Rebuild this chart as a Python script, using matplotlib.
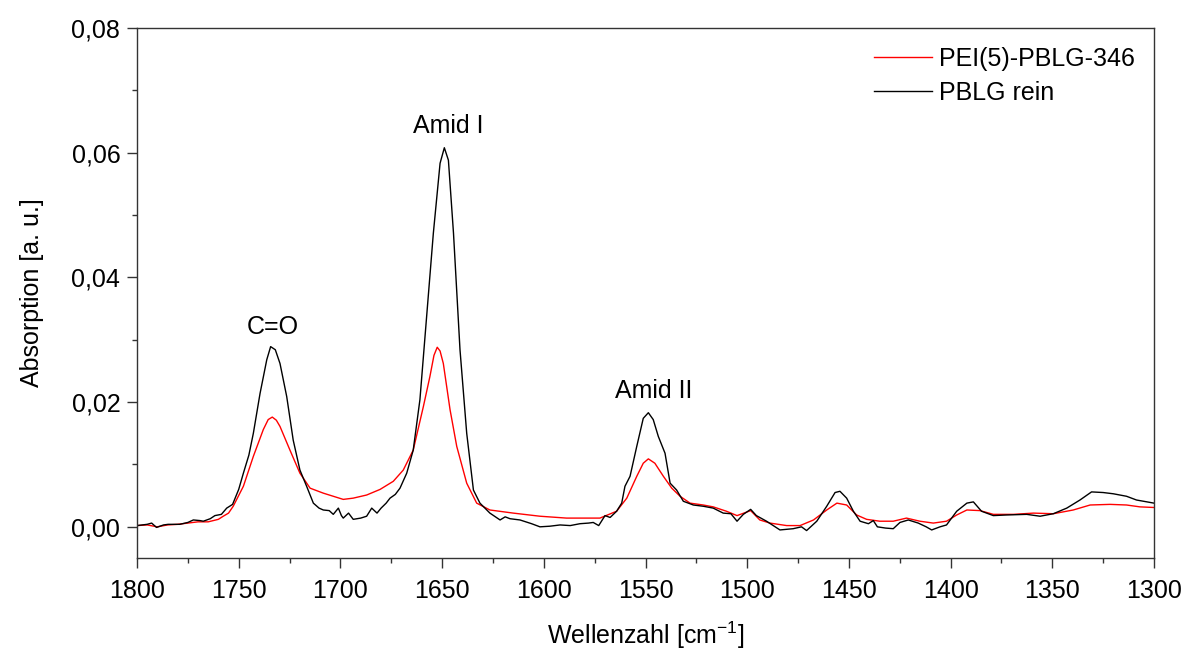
import matplotlib
matplotlib.use("Agg")
import matplotlib.pyplot as plt
from matplotlib.ticker import FixedLocator, FixedFormatter, MultipleLocator

plt.rcParams['font.family'] = ['Liberation Sans', 'DejaVu Sans']
plt.rcParams['mathtext.fontset'] = 'custom'
plt.rcParams['mathtext.rm'] = 'Liberation Sans'
plt.rcParams['mathtext.it'] = 'Liberation Sans:italic'

# PBLG rein (black)
pblg_x = [1800, 1795, 1792.8, 1790.4, 1787, 1784.7, 1779, 1775, 1772.3, 1769, 1767.4, 1764, 1761.7, 1758.5,
          1755.9, 1753, 1750, 1747.7, 1745, 1742.8, 1739.5, 1736.2, 1734.3, 1732, 1729.7, 1726.4, 1723.2,
          1719.9, 1716.6, 1713.3, 1710.5, 1708.4, 1705.5, 1703.5, 1701, 1699.5, 1698.6, 1696, 1693.7, 1690,
          1687.1, 1684.6, 1682, 1680, 1677.5, 1675.6, 1673, 1670.7, 1667.4, 1664.2, 1660.9, 1657.6, 1654.3,
          1651.0, 1648.9, 1646.9, 1644.4, 1641.2, 1637.9, 1634.6, 1631.4, 1626.5, 1621.5, 1619, 1616.6,
          1611.7, 1606, 1601.9, 1597, 1592, 1587, 1582.2, 1578, 1575.7, 1573, 1569.9, 1567.4, 1564.2, 1561.7,
          1560.1, 1557.6, 1554.3, 1551.1, 1548.6, 1546.2, 1543.7, 1540.4, 1537.9, 1534.7, 1531.4, 1526.5,
          1521.6, 1516.7, 1511.8, 1508, 1505, 1501.9, 1498.3, 1495.5, 1490.5, 1483.9, 1477.4, 1473.3, 1470.8,
          1465.8, 1460.9, 1456.8, 1454.4, 1451.1, 1447.8, 1444.5, 1440.4, 1438, 1436, 1432, 1428.2, 1424.9,
          1420.8, 1415.9, 1412, 1409.3, 1405.2, 1402, 1397, 1392, 1388.8, 1384.8, 1379, 1372.5, 1362.6, 1356,
          1349.5, 1342.9, 1336.4, 1330.7, 1325, 1320, 1313.5, 1308.6, 1300]
pblg_y = [0.0002, 0.0004, 0.0006, -0.0001, 0.0003, 0.0004, 0.0004, 0.0007, 0.0011, 0.0010, 0.0009, 0.0013,
          0.0018, 0.0020, 0.0030, 0.0036, 0.0060, 0.0086, 0.0115, 0.0150, 0.0214, 0.0268, 0.0289, 0.0284,
          0.0262, 0.0209, 0.0139, 0.0091, 0.0065, 0.0038, 0.0030, 0.0027, 0.0026, 0.0020, 0.0030, 0.0018,
          0.0014, 0.0022, 0.0012, 0.0014, 0.0017, 0.0030, 0.0022, 0.0030, 0.0038, 0.0046, 0.0052, 0.0062,
          0.0086, 0.0123, 0.0204, 0.0337, 0.0471, 0.0583, 0.0608, 0.0588, 0.0471, 0.0284, 0.0150, 0.0059,
          0.0038, 0.0022, 0.0011, 0.0016, 0.0013, 0.0011, 0.0005, 0.0000, 0.0001, 0.0003, 0.0002, 0.0005,
          0.0006, 0.0007, 0.0002, 0.0018, 0.0015, 0.0025, 0.0038, 0.0065, 0.0081, 0.0129, 0.0174, 0.0183,
          0.0172, 0.0145, 0.0118, 0.0070, 0.0059, 0.0041, 0.0035, 0.0033, 0.0030, 0.0022, 0.0021, 0.0009,
          0.0020, 0.0028, 0.0018, 0.0009, -0.0005, -0.0003, 0.0000, -0.0006, 0.0009, 0.0033, 0.0055, 0.0057,
          0.0046, 0.0025, 0.0009, 0.0005, 0.0010, 0.0000, -0.0002, -0.0003, 0.0007, 0.0011, 0.0006, 0.0000,
          -0.0005, 0.0000, 0.0003, 0.0025, 0.0038, 0.0040, 0.0025, 0.0018, 0.0019, 0.0020, 0.0017, 0.0021,
          0.0030, 0.0043, 0.0056, 0.0055, 0.0053, 0.0049, 0.0043, 0.0038]

# PEI(5)-PBLG-346 (red)
pei_x = [1800, 1795, 1790, 1785, 1780, 1775, 1770, 1765, 1760, 1757.6, 1755, 1752.7, 1747.7, 1742.8, 1737.9,
         1735.5, 1733.5, 1731.5, 1729.7, 1724.8, 1719.9, 1714.9, 1708.4, 1703.5, 1698.6, 1693.7, 1687.1,
         1680.5, 1674, 1669.1, 1664.2, 1659.2, 1656, 1654, 1652.4, 1651, 1649.4, 1646.1, 1642.8, 1637.9,
         1633, 1626.5, 1615, 1601.9, 1588.8, 1572.4, 1564.2, 1559.2, 1554.3, 1551.1, 1548.6, 1545.4, 1541.2,
         1537.1, 1533, 1528.1, 1521.6, 1516.7, 1510.2, 1505, 1498.3, 1493.8, 1488.8, 1480.6, 1474, 1467.4,
         1460.9, 1455.9, 1451.1, 1446.2, 1441.3, 1434.8, 1428.2, 1421.7, 1415.1, 1408.5, 1402, 1397, 1392,
         1385.5, 1379, 1369.1, 1359.3, 1349.5, 1339.7, 1331.4, 1321.6, 1313.5, 1306.9, 1300]
pei_y = [0.0002, 0.0003, 0.0000, 0.0003, 0.0004, 0.0006, 0.0008, 0.0008, 0.0012, 0.0017, 0.0022, 0.0033,
         0.0065, 0.0113, 0.0156, 0.0172, 0.0176, 0.0171, 0.0161, 0.0123, 0.0086, 0.0062, 0.0054, 0.0049,
         0.0044, 0.0046, 0.0051, 0.0060, 0.0073, 0.0091, 0.0123, 0.0193, 0.0241, 0.0275, 0.0288, 0.0282,
         0.0262, 0.0188, 0.0129, 0.0070, 0.0038, 0.0027, 0.0022, 0.0017, 0.0014, 0.0014, 0.0025, 0.0046,
         0.0081, 0.0102, 0.0109, 0.0102, 0.0081, 0.0062, 0.0049, 0.0038, 0.0035, 0.0032, 0.0025, 0.0018,
         0.0026, 0.0011, 0.0006, 0.0002, 0.0002, 0.0011, 0.0027, 0.0038, 0.0035, 0.0019, 0.0012, 0.0009,
         0.0009, 0.0014, 0.0009, 0.0006, 0.0009, 0.0019, 0.0027, 0.0026, 0.0020, 0.0020, 0.0022, 0.0021,
         0.0027, 0.0035, 0.0036, 0.0035, 0.0032, 0.0031]

series_labels = ["PEI(5)-PBLG-346", "PBLG rein"]
ytick_values = [0.00, 0.02, 0.04, 0.06, 0.08]
ytick_labels = ["0,00", "0,02", "0,04", "0,06", "0,08"]
xtick_values = [1800, 1750, 1700, 1650, 1600, 1550, 1500, 1450, 1400, 1350, 1300]
peak_labels = ["C=O", "Amid I", "Amid II"]
peak_pos = [(1733, 0.0321), (1647, 0.0643), (1546, 0.0218)]

fig = plt.figure(figsize=(11.84, 6.5), dpi=100)
ax = fig.add_axes([137/1184, 1 - 558/650, (1154 - 137)/1184, (558 - 28)/650])

ax.plot(pei_x, pei_y, color='#ff0000', lw=1.0, label=series_labels[0])
ax.plot(pblg_x, pblg_y, color='black', lw=1.0, label=series_labels[1])

ax.set_xlim(1800, 1300)
ax.set_ylim(-0.005, 0.08)
ax.yaxis.set_major_locator(FixedLocator(ytick_values))
ax.yaxis.set_major_formatter(FixedFormatter(ytick_labels))
ax.yaxis.set_minor_locator(MultipleLocator(0.01))
ax.xaxis.set_major_locator(FixedLocator(xtick_values))
ax.xaxis.set_minor_locator(MultipleLocator(25))

ax.tick_params(which='both', direction='out', top=False, right=False, labelsize=18, width=1.0, color='#333333')
ax.tick_params(which='major', length=7)
ax.tick_params(which='minor', length=3.6)
ax.tick_params(axis='x', which='major', pad=8)
ax.tick_params(axis='y', which='major', pad=5)
for s in ax.spines.values():
    s.set_linewidth(1.0)
    s.set_color('#333333')

for lab, (px, py) in zip(peak_labels, peak_pos):
    ax.text(px, py, lab, ha='center', va='center', fontsize=18)

ax.set_xlabel(r'Wellenzahl [cm$^{\mathregular{-1}}$]', fontsize=18, labelpad=12)
ax.set_ylabel('Absorption [a. u.]', fontsize=18, labelpad=20)

leg = ax.legend(loc='upper right', frameon=False, fontsize=18, handlelength=2.3,
                handletextpad=0.3, labelspacing=0.4, borderaxespad=0.35)

fig.savefig('out.png', dpi=100)
